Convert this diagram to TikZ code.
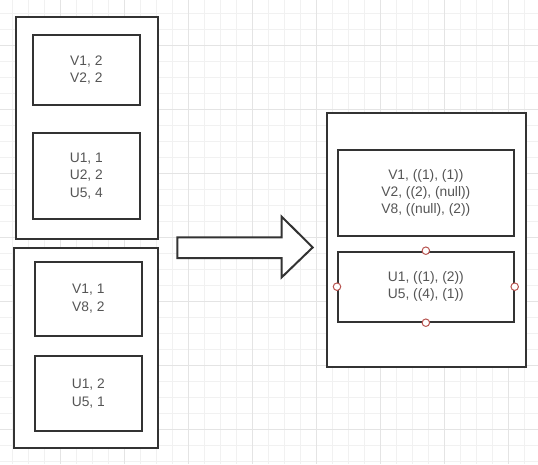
\documentclass[tikz,border=0pt]{standalone}
\usepackage{fontspec}
\setmainfont{Liberation Sans}
\definecolor{gridminor}{HTML}{F1F1F1}
\definecolor{gridmajor}{HTML}{E4E4E4}
\definecolor{boxline}{HTML}{333333}
\definecolor{boxtext}{HTML}{555555}
\definecolor{handle}{HTML}{B85450}

\begin{document}
\begin{tikzpicture}[x=1pt, y=-1pt,
    every node/.style={font=\fontsize{13.8}{17.3}\selectfont, text=boxtext},
    frame/.style={draw=boxline, line width=2pt, fill=white, inner sep=0pt, anchor=north west},
    cell/.style={frame, align=center},
    grip/.style={circle, draw=handle, fill=white, line width=1pt, minimum size=7.5pt, inner sep=0pt}]
    \useasboundingbox (0,0) rectangle (538,464);
    \fill[white] (0,0) rectangle (538,464);

    % Raster
    \foreach \x in {12.5,28.5,...,540} \draw[gridminor, line width=0.8pt] (\x,0) -- (\x,464);
    \foreach \y in {13.2,29.2,...,470} \draw[gridminor, line width=0.8pt] (0,\y) -- (538,\y);
    \foreach \x in {60.5,124.5,...,540} \draw[gridmajor, line width=0.8pt] (\x,0) -- (\x,464);
    \foreach \y in {45,109,...,470} \draw[gridmajor, line width=0.8pt] (0,\y) -- (538,\y);

    % Erste Partition
    \node[frame, minimum width=142pt, minimum height=222pt] (partA) at (14.7,15.7) {};
    \node[cell, minimum width=107.3pt, minimum height=70.6pt] (vA) at (31.7,33.7) {V1, 2\\V2, 2};
    \node[cell, minimum width=107.3pt, minimum height=86pt] (uA) at (31.7,132) {U1, 1\\U2, 2\\U5, 4};

    % Zweite Partition
    \node[frame, minimum width=143.4pt, minimum height=199.4pt] (partB) at (13.3,247.3) {};
    \node[cell, minimum width=107.3pt, minimum height=74pt] (vB) at (33.7,260.7) {V1, 1\\V8, 2};
    \node[cell, minimum width=107.3pt, minimum height=74.7pt] (uB) at (33.7,355.3) {U1, 2\\U5, 1};

    % Pfeil
    \draw[boxline, line width=2pt, fill=white, line join=miter]
        (177.3,237.3) -- (281.7,237.3) -- (281.7,216.7) -- (312.7,247.4)
        -- (281.7,277.3) -- (281.7,258) -- (177.3,258) -- cycle;

    % Ergebnis
    \node[frame, minimum width=199pt, minimum height=254pt] (merged) at (326,111.7) {};
    \node[cell, minimum width=175.7pt, minimum height=85.4pt] (vM) at (337,149.3)
        {V1, ((1), (1))\\V2, ((2), (null))\\V8, ((null), (2))};
    \node[cell, minimum width=175.7pt, minimum height=70pt] (uM) at (337,250.7)
        {U1, ((1), (2))\\U5, ((4), (1))};

    \foreach \side in {north,south,west,east}
        \node[grip] (grip-\side) at (uM.\side) {};
\end{tikzpicture}
\end{document}
